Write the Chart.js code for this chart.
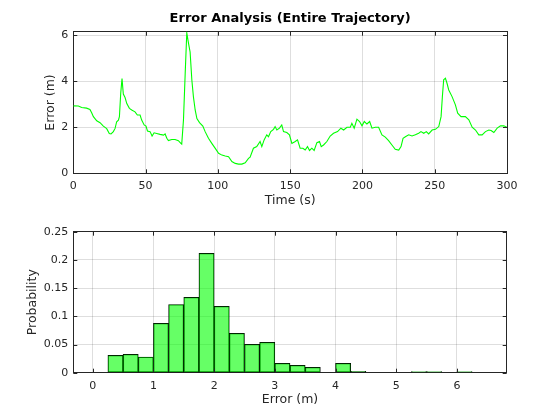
<!DOCTYPE html>
<html><head><meta charset="utf-8">
<script src="https://cdn.jsdelivr.net/npm/chart.js@4/dist/chart.umd.min.js"></script>
<style>
html,body{margin:0;padding:0;background:#fff;}
#wrap{position:relative;width:560px;height:420px;background:#fff;}
#c1{position:absolute;left:0;top:0;}
#c2{position:absolute;left:0;top:215px;}
</style></head><body>
<div id="wrap">
<canvas id="c1" width="560" height="215"></canvas>
<canvas id="c2" width="560" height="205"></canvas>
</div>
<script>
// ---- data ----
const timeS = [0,3.5,5.8,9.2,11.5,12.7,13.9,16.2,18.5,20.8,23.1,24.9,26.1,27.7,28.9,30,31.2,31.9,32.8,33.7,34.6,35.8,37,38.8,40.4,42.7,44.3,46.2,47.3,49,50.3,51.3,53.1,54.5,55.9,57.7,60,62.4,63.5,64.7,65.8,68.1,70.4,72.7,74.4,75,76.2,77.4,78.5,79.7,80.8,82,83.1,84.3,85.5,87.3,89.6,91.2,93.5,95.8,98.2,100.5,102.8,105.1,107.4,109.7,112,114.3,116.6,118.9,121.2,122.3,124.6,126.9,129.2,130.4,132,133.8,135,136.6,138.5,139.6,140.8,142.6,144.2,145.4,147.7,149.5,151.2,153.5,155.1,156.9,158.8,160.4,162,163.4,165,166.6,168.5,170.3,171.5,173.1,175.4,177.7,180,182.8,185.1,187,189.3,191.6,192.7,194.3,196.2,198,199.7,201.3,203.1,205,206.6,208.9,211.2,213.5,215.8,218.1,220.4,222.7,225.1,226.7,228.1,229.7,232,234.3,236.6,238.9,240.5,242.4,244.2,245.8,248.2,250.5,252.8,254.4,255.3,256.2,257.4,258.5,259.7,262,264.3,265.9,268.2,271.2,273.6,275.9,278.2,280.5,282.8,285.1,287.4,289,290.9,293.2,295.5,297.8,300];
const errorM = [2.93,2.92,2.86,2.83,2.77,2.63,2.46,2.28,2.2,2.05,1.94,1.73,1.71,1.81,1.95,2.24,2.31,2.46,3.47,4.12,3.44,3.29,3.03,2.82,2.75,2.67,2.53,2.53,2.31,2.1,2.05,1.84,1.81,1.62,1.76,1.73,1.69,1.66,1.71,1.52,1.42,1.47,1.47,1.42,1.3,1.27,2.31,4.34,6.1,5.64,5.27,4.05,3.32,2.75,2.38,2.2,2.05,1.81,1.52,1.3,1.08,0.87,0.79,0.75,0.72,0.51,0.43,0.4,0.4,0.46,0.65,0.7,1.09,1.16,1.38,1.16,1.45,1.67,1.59,1.81,1.91,2.03,1.88,1.96,2.1,1.81,1.77,1.67,1.3,1.38,1.45,1.09,1.09,1.01,1.16,0.99,1.09,0.99,1.33,1.38,1.16,1.23,1.38,1.62,1.74,1.81,1.96,1.88,2.0,2.0,2.17,1.96,2.35,2.25,2.06,2.25,2.14,2.25,1.96,2.0,2.0,1.67,1.57,1.42,1.23,1.04,1.01,1.16,1.52,1.59,1.67,1.62,1.67,1.74,1.81,1.74,1.81,1.71,1.88,1.91,2.03,2.46,3.33,4.06,4.13,3.91,3.62,3.33,2.97,2.61,2.46,2.46,2.32,2.0,1.88,1.67,1.67,1.81,1.88,1.86,1.77,1.96,2.06,2.06,2.0];
const binLeftEdges = [0.25,0.5,0.75,1.0,1.25,1.5,1.75,2.0,2.25,2.5,2.75,3.0,3.25,3.5,3.75,4.0,4.25,4.5,4.75,5.0,5.25,5.5,5.75,6.0];
const binWidth = 0.25;
const probability = [0.0307,0.0325,0.0278,0.0875,0.121,0.1336,0.2116,0.1176,0.0697,0.0502,0.0538,0.0165,0.013,0.0095,0,0.0165,0.0024,0,0,0,0.0018,0.0018,0,0.0018];
const timeTicks = [0,50,100,150,200,250,300];
const errorTicks = [0,2,4,6];
const histErrorTicks = [0,1,2,3,4,5,6];
const probTicks = [0,0.05,0.1,0.15,0.2,0.25];

// ---- styles ----
const FAM = 'DejaVu Sans';
const TXT = '#262626';
const GRID = 'rgba(0,0,0,0.13)';
const tickFont = {family: FAM, size: 11};
const labelFont = {family: FAM, size: 12.5};

const insideTicks = {
  id: 'insideTicks',
  afterDatasetsDraw(chart) {
    const {ctx, chartArea: a, scales} = chart;
    const L = 4;
    ctx.save();
    ctx.strokeStyle = TXT; ctx.lineWidth = 1;
    ctx.beginPath();
    scales.x.ticks.forEach(t => {
      const p = Math.round(scales.x.getPixelForValue(t.value)) + 0.5;
      ctx.moveTo(p, a.bottom); ctx.lineTo(p, a.bottom - L);
      ctx.moveTo(p, a.top); ctx.lineTo(p, a.top + L);
    });
    scales.y.ticks.forEach(t => {
      const p = Math.round(scales.y.getPixelForValue(t.value)) + 0.5;
      ctx.moveTo(a.left, p); ctx.lineTo(a.left + L, p);
      ctx.moveTo(a.right, p); ctx.lineTo(a.right - L, p);
    });
    ctx.stroke();
    ctx.restore();
  }
};

function setTicks(arr) { return s => { s.ticks = arr.map(v => ({value: v})); }; }

function boxAxis(pos, size) {
  return {
    position: pos, display: true,
    min: 0, max: 1,
    grid: {display: false, drawTicks: false},
    border: {display: true, color: TXT, width: 1},
    ticks: {display: false},
    afterFit: s => { if (pos === 'top') s.height = size; else s.width = size; }
  };
}

// ---- top chart ----
new Chart(document.getElementById('c1'), {
  type: 'line',
  data: {
    datasets: [{
      data: timeS.map((t, i) => ({x: t, y: errorM[i]})),
      borderColor: '#00ff00', borderWidth: 1.1, pointRadius: 0, tension: 0, fill: false
    }]
  },
  options: {
    responsive: false, animation: false, devicePixelRatio: 1,
    layout: {padding: {left: 39, right: 0, top: 0, bottom: 4.5}},
    plugins: {
      legend: {display: false}, tooltip: {enabled: false},
      title: {display: true, fullSize: false, text: 'Error Analysis (Entire Trajectory)', color: '#000',
        font: {family: FAM, size: 13, weight: 'bold'}, padding: {top: 11.2, bottom: 2}}
    },
    scales: {
      x: {
        type: 'linear', min: 0, max: 300, position: 'bottom',
        afterBuildTicks: setTicks(timeTicks),
        afterFit: s => { s.height = 215 - 4.5 - 173.3; },
        grid: {color: GRID, drawTicks: false},
        border: {color: TXT, width: 1},
        ticks: {padding: 6.5, color: TXT, font: tickFont, maxRotation: 0, callback: v => String(v)},
        title: {display: true, text: 'Time (s)', color: TXT, font: labelFont, padding: {top: 0, bottom: 2}}
      },
      y: {
        type: 'linear', min: 0, max: 6.15, position: 'left',
        afterBuildTicks: setTicks(errorTicks),
        afterFit: s => { s.width = 73.3 - 39; },
        grid: {color: GRID, drawTicks: false},
        border: {color: TXT, width: 1},
        ticks: {padding: 5, color: TXT, font: tickFont, callback: v => String(v)},
        title: {display: true, text: 'Error (m)', color: TXT, font: labelFont, padding: {top: 4, bottom: 0}}
      },
      x2: boxAxis('top', 2.9),
      y2: boxAxis('right', 560 - 507)
    }
  },
  plugins: [insideTicks]
});

// ---- bottom chart ----
new Chart(document.getElementById('c2'), {
  type: 'bar',
  data: {
    datasets: [{
      data: binLeftEdges.map((e, i) => ({x: e + binWidth / 2, y: probability[i]})),
      backgroundColor: 'rgba(0,255,0,0.6)', borderColor: '#000', borderWidth: 0.65, borderSkipped: false,
      barPercentage: 1, categoryPercentage: 1
    }]
  },
  options: {
    responsive: false, animation: false, devicePixelRatio: 1,
    layout: {padding: {left: 20.8, right: 0, top: 0, bottom: 10.5}},
    plugins: {legend: {display: false}, tooltip: {enabled: false}},
    scales: {
      x: {
        type: 'linear', min: -0.32, max: 6.82, position: 'bottom', offset: false,
        afterBuildTicks: setTicks(histErrorTicks),
        afterFit: s => { s.height = 205 - 10.5 - 157.7; },
        grid: {color: GRID, drawTicks: false, offset: false},
        border: {color: TXT, width: 1},
        ticks: {padding: 6.5, color: TXT, font: tickFont, maxRotation: 0, callback: v => String(v)},
        title: {display: true, text: 'Error (m)', color: TXT, font: labelFont, padding: {top: 0, bottom: 2}}
      },
      y: {
        type: 'linear', min: 0, max: 0.25, position: 'left',
        afterBuildTicks: setTicks(probTicks),
        afterFit: s => { s.width = 73.3 - 20.8; },
        grid: {color: GRID, drawTicks: false},
        border: {color: TXT, width: 1},
        ticks: {padding: 5, color: TXT, font: tickFont, callback: v => String(v)},
        title: {display: true, text: 'Probability', color: TXT, font: labelFont, padding: {top: 4, bottom: 0}}
      },
      x2: boxAxis('top', 16.7),
      y2: boxAxis('right', 560 - 506.7)
    }
  },
  plugins: [insideTicks]
});
</script>
</body></html>
